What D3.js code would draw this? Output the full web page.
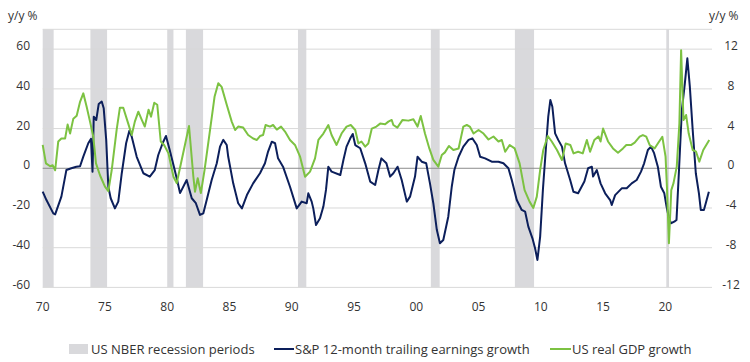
<!DOCTYPE html>
<html>
<head>
<meta charset="UTF-8">
<script src="https://d3js.org/d3.v7.min.js"></script>
<style>
  * { margin: 0; padding: 0; }
  body { background: #fff; font-family: "Open Sans", "Noto Sans", sans-serif; }
  svg text { fill: #333; }
</style>
</head>
<body>
<div id="chart"></div>
<script>
// NBER recessions [start, end] in decimal years
const recessions = [[1969.92, 1970.88], [1973.83, 1975.17], [1980.0, 1980.5], [1981.5, 1982.88],
                    [1990.5, 1991.17], [2001.17, 2001.88], [2007.92, 2009.46], [2020.08, 2020.3]];

// S&P 12-month trailing earnings growth (left axis, %)
const epsYears = [1970.0, 1970.3, 1970.85, 1971.0, 1971.5, 1971.9, 1972.3, 1972.7, 1973.0, 1973.26, 1973.66, 1973.88,
  1974.0, 1974.1, 1974.3, 1974.5, 1974.74, 1974.9, 1975.1, 1975.27, 1975.46, 1975.8, 1976.07, 1976.35, 1976.7,
  1976.96, 1977.15, 1977.55, 1978.08, 1978.6, 1979.0, 1979.28, 1979.63, 1979.9, 1980.2, 1980.6, 1980.8, 1981.03,
  1981.56, 1981.97, 1982.3, 1982.63, 1982.9, 1983.17, 1983.57, 1983.98, 1984.24, 1984.5, 1984.78, 1984.9, 1985.3,
  1985.7, 1986.0, 1986.4, 1986.9, 1987.45, 1987.85, 1988.1, 1988.4, 1988.66, 1988.9, 1989.3, 1989.86, 1990.4,
  1990.8, 1991.2, 1991.33, 1991.6, 1991.73, 1991.95, 1992.27, 1992.54, 1992.75, 1992.94, 1993.2, 1993.9, 1994.15,
  1994.4, 1994.7, 1994.9, 1995.1, 1995.5, 1995.9, 1996.3, 1996.7, 1996.96, 1997.2, 1997.6, 1997.9, 1998.16,
  1998.5, 1998.83, 1999.24, 1999.5, 1999.9, 2000.1, 2000.44, 2000.8, 2001.1, 2001.37, 2001.65, 2001.9, 2002.17,
  2002.57, 2002.85, 2003.06, 2003.4, 2003.78, 2004.2, 2004.5, 2004.86, 2005.13, 2005.53, 2006.06, 2006.6, 2007.0,
  2007.4, 2007.67, 2008.07, 2008.47, 2008.74, 2009.0, 2009.33, 2009.54, 2009.73, 2009.95, 2010.17, 2010.4, 2010.6,
  2010.77, 2010.93, 2011.15, 2011.4, 2011.7, 2011.95, 2012.36, 2012.62, 2013.0, 2013.5, 2013.8, 2014.1, 2014.2,
  2014.5, 2014.8, 2015.17, 2015.57, 2015.7, 2015.97, 2016.5, 2016.9, 2017.3, 2017.7, 2018.05, 2018.3, 2018.6,
  2018.85, 2019.1, 2019.4, 2019.65, 2019.92, 2020.1, 2020.27, 2020.45, 2020.72, 2020.9, 2021.1, 2021.33, 2021.57,
  2021.77, 2021.97, 2022.2, 2022.45, 2022.7, 2022.85, 2023.1, 2023.25, 2023.5];
const epsValues = [-11.8, -16, -22.7, -23.2, -14.3, -0.9, 0, 0.8, 1, 5.9, 12.6, 14.8,
  -1.7, 26, 24.3, 32.4, 33.6, 30.2, 14.3, -9.3, -15.1, -20.2, -16.8, -2.5, 12.6,
  18.9, 15.9, 5.8, -2.5, -4.2, -0.9, 6.7, 12.6, 16.3, 9.2, -0.9, -6, -12.5,
  -5.9, -15.1, -17.6, -23.5, -22.7, -16, -5.9, 2.5, 10.9, 14.3, 11.7, 5.8, -7.6,
  -17.6, -20.2, -13.5, -7.6, -2.5, 2.5, 8.4, 13.4, 12.6, 5, 0.8, -9.3, -20.2,
  -16.8, -17.6, -12.6, -16.8, -20.2, -28.6, -25.2, -19.3, -10.9, 0.8, -1.7, -3.4, 4.2,
  10.9, 15.1, 17.3, 11.7, 10.1, 2.5, -6.7, -8.4, -0.9, 5, 2.5, -4.2, -2.5,
  0.8, -5.9, -16.8, -14.3, -4.2, 5.8, 3.3, 2.5, -7.6, -17.6, -31, -37.8, -36.1,
  -24.4, -9.3, -0.9, 5.8, 10.9, 14.3, 15.1, 11.7, 5.8, 5, 3.3, 3.3, 2.5,
  0, -5.9, -16, -21, -21.8, -29.4, -35.3, -40.3, -46.2, -34.4, -10.9, 9.2, 26,
  34.4, 31, 17.6, 14.3, 10.9, 2.5, -5.9, -11.8, -12.6, -6.7, 0, 0.8, -4.2,
  -0.9, -7.6, -12.6, -16, -18.5, -13.5, -10.1, -10.1, -7.6, -5.9, -1.7, 2.5, 9.2,
  10.9, 7.6, 0.8, -9.3, -12.6, -19.3, -24.4, -27.7, -26.9, -26, -0.9, 29.4, 42.8,
  55.4, 41.1, 19.3, -2.5, -12.6, -21, -21, -17.6, -11.8];

// US real GDP growth (right axis, %)
const gdpYears = [1970.0, 1970.26, 1970.6, 1970.8, 1971.0, 1971.25, 1971.5, 1971.8, 1972.0, 1972.2, 1972.46, 1972.73,
  1973.0, 1973.26, 1973.53, 1973.8, 1974.06, 1974.28, 1974.6, 1975.0, 1975.27, 1975.54, 1975.94, 1976.2, 1976.47,
  1976.87, 1977.15, 1977.4, 1977.68, 1977.95, 1978.2, 1978.5, 1978.7, 1978.96, 1979.2, 1979.48, 1979.75, 1980.1,
  1980.5, 1980.76, 1981.75, 1982.1, 1982.23, 1982.45, 1982.7, 1983.0, 1983.44, 1983.8, 1984.1, 1984.37, 1984.78,
  1985.18, 1985.45, 1985.7, 1986.1, 1986.5, 1986.9, 1987.2, 1987.45, 1987.7, 1987.9, 1988.26, 1988.5, 1988.8,
  1989.14, 1989.46, 1989.86, 1990.26, 1990.67, 1991.07, 1991.47, 1991.87, 1992.14, 1992.54, 1992.94, 1993.2,
  1993.6, 1994.0, 1994.4, 1994.74, 1995.1, 1995.35, 1995.6, 1995.9, 1996.15, 1996.43, 1996.8, 1997.1, 1997.5,
  1997.76, 1998.03, 1998.16, 1998.48, 1998.9, 1999.37, 1999.77, 2000.1, 2000.36, 2000.7, 2001.05, 2001.37,
  2001.77, 2002.05, 2002.3, 2002.62, 2002.98, 2003.4, 2003.78, 2004.06, 2004.3, 2004.6, 2005.0, 2005.4, 2005.8,
  2006.2, 2006.6, 2006.87, 2007.14, 2007.5, 2007.9, 2008.3, 2008.7, 2009.1, 2009.4, 2009.68, 2009.95, 2010.2,
  2010.56, 2010.88, 2011.3, 2011.7, 2012.0, 2012.37, 2012.63, 2013.0, 2013.37, 2013.7, 2013.96, 2014.3, 2014.63,
  2014.8, 2015.0, 2015.4, 2015.8, 2016.2, 2016.6, 2016.87, 2017.27, 2017.54, 2017.94, 2018.2, 2018.47, 2018.74,
  2019.14, 2019.4, 2019.76, 2020.02, 2020.13, 2020.29, 2020.48, 2020.66, 2020.92, 2021.13, 2021.27, 2021.46,
  2021.67, 2021.88, 2022.2, 2022.47, 2022.73, 2023.05, 2023.53];
const gdpValues = [2.35, 0.5, 0.2, 0.3, -0.2, 2.7, 3.0, 3.0, 4.4, 3.5, 5.0, 5.3,
  6.7, 7.55, 6.2, 4.7, 3.2, 0.5, -0.7, -1.85, -2.3, -0.2, 3.9, 6.1, 6.1,
  4.5, 3.35, 4.7, 5.7, 4.9, 4.2, 5.9, 5.2, 6.6, 6.4, 2.7, 2.35, 1.5,
  -0.85, -1.5, 4.26, -0.85, -2.36, -1.0, -2.5, -0.17, 3.86, 7.2, 8.56, 8.2, 6.4,
  4.7, 3.86, 4.2, 4.1, 3.35, 3.0, 2.85, 3.25, 3.35, 4.36, 4.2, 4.36, 3.9,
  4.2, 3.7, 2.85, 2.35, 1.17, -0.85, -0.34, 1.0, 2.85, 3.5, 4.36, 3.35,
  2.35, 3.5, 4.2, 4.36, 3.86, 2.5, 2.7, 2.18, 2.5, 4.0, 4.2, 4.5, 4.43,
  4.7, 4.87, 4.36, 4.1, 4.87, 4.8, 4.94, 4.2, 5.27, 3.5, 2.0, 0.84,
  0.17, 1.34, 1.6, 2.25, 1.84, 2.0, 4.2, 4.36, 4.2, 3.5, 3.86, 3.5, 2.9,
  3.2, 2.7, 2.85, 1.67, 2.35, 2.0, 0.5, -2.2, -3.36, -4.0, -2.86, -0.17, 1.84,
  3.25, 2.7, 1.84, 0.84, 2.5, 2.35, 1.5, 1.67, 1.5, 2.85, 1.67, 2.85, 3.2,
  2.7, 4.0, 2.7, 2.0, 1.57, 2.0, 2.35, 2.35, 2.58, 3.18, 3.35, 3.18, 2.35,
  2.0, 2.5, 3.18, 1.17, -1.85, -7.56, -2.2, -1.5, 0.17, 4.5, 11.9, 4.87,
  5.37, 3.5, 1.84, 1.67, 0.67, 1.84, 2.85];

const leftTicks = [60, 40, 20, 0, -20, -40, -60];
const rightTicks = [12, 8, 4, 0, -4, -8, -12];
const xTickYears = [1970, 1975, 1980, 1985, 1990, 1995, 2000, 2005, 2010, 2015, 2020];
const xTickLabels = ["70", "75", "80", "85", "90", "95", "00", "05", "10", "15", "20"];

const W = 750, H = 362;
const plot = {left: 42.7, right: 712, top: 29.3, bottom: 287.4};

const svg = d3.select("#chart").append("svg")
  .attr("width", W).attr("height", H)
  .style("font-family", "'Open Sans', 'Noto Sans', sans-serif");

const x = d3.scaleLinear().domain([1970, 2023.75]).range([plot.left, plot.right]);
const yL = d3.scaleLinear().domain([-60, 70]).range([plot.bottom, plot.top]);
const yR = d3.scaleLinear().domain([-12, 14]).range([plot.bottom, plot.top]);

// recession shading
svg.append("g").selectAll("rect")
  .data(recessions)
  .enter().append("rect")
  .attr("x", d => x(Math.max(d[0], 1970)))
  .attr("width", d => x(d[1]) - x(Math.max(d[0], 1970)))
  .attr("y", plot.top)
  .attr("height", plot.bottom - plot.top)
  .attr("fill", "#d9d9dc");

// gridlines
svg.append("g").selectAll("line")
  .data(leftTicks.filter(d => d !== 0).concat([70]))
  .enter().append("line")
  .attr("x1", plot.left).attr("x2", plot.right)
  .attr("y1", d => yL(d)).attr("y2", d => yL(d))
  .attr("stroke", "#d9d9d9").attr("stroke-width", 1);

svg.append("line")
  .attr("x1", plot.left).attr("x2", plot.right)
  .attr("y1", yL(0)).attr("y2", yL(0))
  .attr("stroke", "#8c8c8c").attr("stroke-width", 1);

// left axis labels
svg.append("g").selectAll("text")
  .data(leftTicks)
  .enter().append("text")
  .attr("x", 30).attr("y", d => yL(d) - 3)
  .attr("dy", "0.35em")
  .attr("text-anchor", "end")
  .style("font-size", "12px")
  .text(d => d);

// right axis labels
svg.append("g").selectAll("text")
  .data(rightTicks)
  .enter().append("text")
  .attr("x", 731).attr("y", d => yR(d) - 3)
  .attr("dy", "0.35em")
  .attr("text-anchor", "middle")
  .style("font-size", "12px")
  .text(d => d);

// x axis labels
svg.append("g").selectAll("text")
  .data(xTickYears)
  .enter().append("text")
  .attr("x", d => x(d)).attr("y", 307)
  .attr("dy", "0.35em")
  .attr("text-anchor", "middle")
  .style("font-size", "12px")
  .text((d, i) => xTickLabels[i]);

svg.append("text").attr("x", 8).attr("y", 16).attr("dy", "0.35em")
  .style("font-size", "12px").text("y/y %");
svg.append("text").attr("x", 709).attr("y", 16).attr("dy", "0.35em")
  .style("font-size", "12px").text("y/y %");

// lines
const eps = epsYears.map((d, i) => [d, epsValues[i]]);
const gdp = gdpYears.map((d, i) => [d, gdpValues[i]]);

svg.append("path")
  .datum(eps)
  .attr("fill", "none")
  .attr("stroke", "#0c1f5b")
  .attr("stroke-width", 2)
  .attr("stroke-linejoin", "round")
  .attr("d", d3.line().x(d => x(d[0])).y(d => yL(d[1])));

svg.append("path")
  .datum(gdp)
  .attr("fill", "none")
  .attr("stroke", "#7cc242")
  .attr("stroke-width", 2)
  .attr("stroke-linejoin", "round")
  .attr("d", d3.line().x(d => x(d[0])).y(d => yR(d[1])));

// legend
const lg = svg.append("g").attr("transform", "translate(0,349)");
lg.append("rect").attr("x", 69).attr("y", -5).attr("width", 19).attr("height", 10).attr("fill", "#d9d9dc");
lg.append("text").attr("x", 91).attr("y", 0).attr("dy", "0.35em").style("font-size", "13px")
  .text("US NBER recession periods");
lg.append("line").attr("x1", 274).attr("x2", 294).attr("y1", 0).attr("y2", 0)
  .attr("stroke", "#0c1f5b").attr("stroke-width", 2);
lg.append("text").attr("x", 295).attr("y", 0).attr("dy", "0.35em").style("font-size", "13px")
  .text("S&P 12-month trailing earnings growth");
lg.append("line").attr("x1", 550).attr("x2", 571).attr("y1", 0).attr("y2", 0)
  .attr("stroke", "#7cc242").attr("stroke-width", 2);
lg.append("text").attr("x", 572).attr("y", 0).attr("dy", "0.35em").style("font-size", "13px")
  .text("US real GDP growth");
</script>
</body>
</html>
